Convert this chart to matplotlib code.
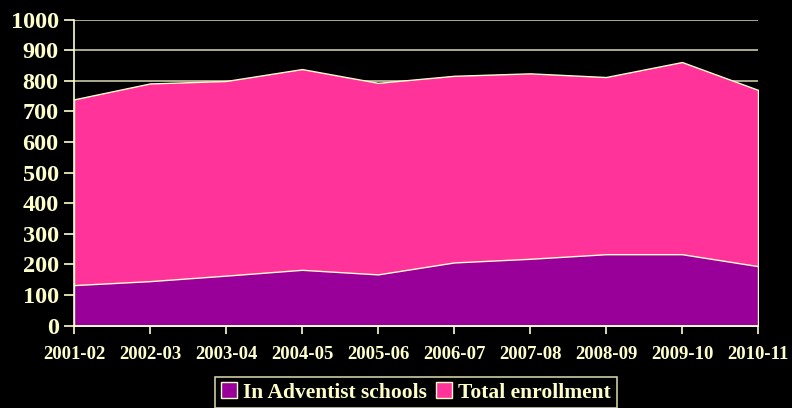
import matplotlib
matplotlib.use("Agg")
import matplotlib.pyplot as plt
from matplotlib.patches import Patch

years = ["2001-02", "2002-03", "2003-04", "2004-05", "2005-06",
         "2006-07", "2007-08", "2008-09", "2009-10", "2010-11"]
adventist = [132, 145, 163, 182, 167, 206, 218, 233, 233, 194]
total = [739, 791, 799, 838, 793, 816, 824, 812, 861, 770]

cream = "#FFFFCC"
purple = "#990099"
pink = "#FF3399"

fig = plt.figure(figsize=(7.92, 4.08), dpi=100, facecolor="black")
ax = fig.add_axes([74/792, 1 - 325.5/408, (758-74)/792, (325.5-19.5)/408])
ax.set_facecolor("black")
x = list(range(len(years)))

ax.set_ylim(0, 1000)
ax.set_xlim(0, len(years) - 1)
ax.set_yticks(range(0, 1001, 100))
ax.grid(axis="y", color="#C8C8A8", linewidth=1.2, zorder=0)
ax.set_axisbelow(True)

ax.fill_between(x, 0, total, facecolor=pink, edgecolor=cream, linewidth=1.0, zorder=2)
ax.fill_between(x, 0, adventist, facecolor=purple, edgecolor=cream, linewidth=1.0, zorder=3)

for s in ["top", "right"]:
    ax.spines[s].set_visible(False)
for s in ["left", "bottom"]:
    ax.spines[s].set_color(cream)
    ax.spines[s].set_linewidth(1.2)
    ax.spines[s].set_zorder(4)

ax.set_xticks(x)
ax.set_xticklabels(years)
ax.tick_params(axis="x", colors=cream, length=6, width=1.2, pad=9)
ax.tick_params(axis="y", colors=cream, length=7, width=1.2, pad=4)
for lab in ax.get_xticklabels():
    lab.set_fontfamily("Liberation Serif")
    lab.set_fontweight("bold")
    lab.set_fontsize(13.5)
    lab.set_color(cream)
for lab in ax.get_yticklabels():
    lab.set_fontfamily("Liberation Serif")
    lab.set_fontweight("bold")
    lab.set_fontsize(17.5)
    lab.set_color(cream)

handles = [Patch(facecolor=purple, edgecolor=cream, label="In Adventist schools"),
           Patch(facecolor=pink, edgecolor=cream, label="Total enrollment")]
leg = fig.legend(handles=handles, loc="upper center", bbox_to_anchor=(416/792, 1 - 377/408),
                 ncol=2, frameon=True, fancybox=False, facecolor="black", edgecolor=cream,
                 prop={"family": "Liberation Serif", "weight": "bold", "size": 15.5},
                 handlelength=0.75, handleheight=0.75, handletextpad=0.3, columnspacing=0.4,
                 borderpad=0.25, borderaxespad=0)
for t in leg.get_texts():
    t.set_color(cream)
leg.get_frame().set_linewidth(1.2)

fig.savefig("out.png", dpi=100, facecolor="black")
